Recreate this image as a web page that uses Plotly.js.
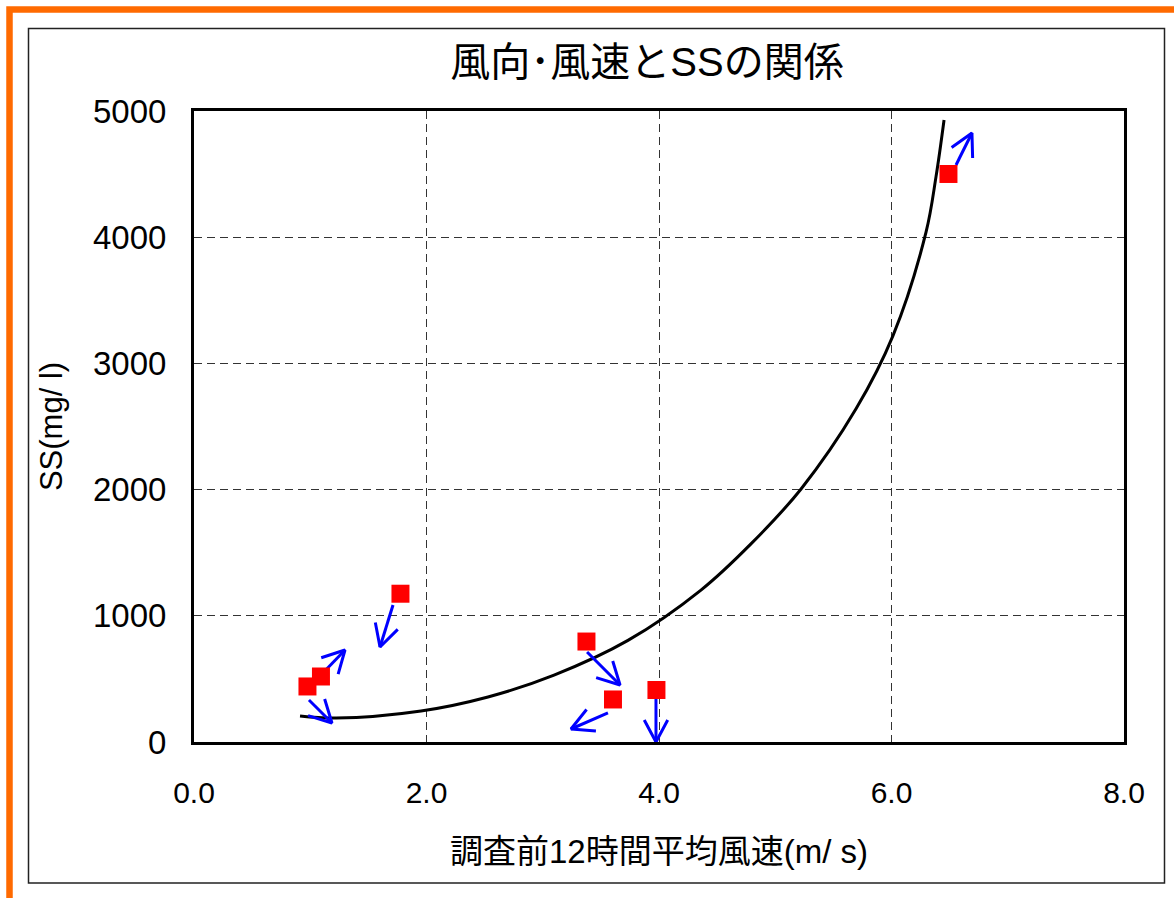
<!DOCTYPE html>
<html><head><meta charset="utf-8">
<script src="https://cdn.plot.ly/plotly-3.0.1.min.js"></script>
<style>html,body{margin:0;padding:0;background:#fff}#chart{width:1174px;height:898px}</style>
</head><body><div id="chart"></div>
<script>
// measured points: wind speed (m/s) vs SS (mg/l)
const windSpeed = [0.976, 1.092, 1.776, 3.376, 3.604, 3.978, 6.490];
const ssValue   = [440, 519, 1175, 796, 337, 412, 4501];

// trend curve
const trendX = [0.912, 1.222, 1.953, 2.529, 3.097, 3.733, 4.361, 4.791, 5.222, 5.695, 6.013, 6.297, 6.383, 6.452];
const trendY = [206, 190, 246, 357, 530, 805, 1204, 1570, 2005, 2640, 3220, 4040, 4480, 4929];

// wind direction arrows (start -> tip), in data units
const arrowX0 = [1.712, 1.067, 0.989, 3.381, 3.561, 3.974, 6.555];
const arrowY0 = [1086, 507, 333, 713, 230, 357, 4572];
const arrowX1 = [1.600, 1.299, 1.187, 3.665, 3.243, 3.974, 6.692];
const arrowY1 = [753, 729, 151, 452, 103, 0, 4826];

const xTickVals = [0, 2, 4, 6, 8];
const xTickText = ['0.0', '2.0', '4.0', '6.0', '8.0'];
const yTickVals = [0, 1000, 2000, 3000, 4000, 5000];

const W = 1174, H = 898;
const ML = 194, MT = 111, PW = 930, PH = 631;
const XR = [0, 8], YR = [0, 5000];
const sx = PW / (XR[1] - XR[0]), sy = PH / (YR[1] - YR[0]);

// build arrow polylines (shaft + open head)
const ax = [], ay = [];
const headLen = 25, headAng = 28 * Math.PI / 180;
for (let i = 0; i < arrowX0.length; i++) {
  const x0 = arrowX0[i], y0 = arrowY0[i], x1 = arrowX1[i], y1 = arrowY1[i];
  ax.push(x0, x1, null); ay.push(y0, y1, null);
  let vx = (x0 - x1) * sx, vy = (y0 - y1) * sy;
  const n = Math.hypot(vx, vy); vx /= n; vy /= n;
  const pts = [headAng, -headAng].map(a => {
    const rx = (vx * Math.cos(a) - vy * Math.sin(a)) * headLen;
    const ry = (vx * Math.sin(a) + vy * Math.cos(a)) * headLen;
    return [x1 + rx / sx, y1 + ry / sy];
  });
  ax.push(pts[0][0], x1, pts[1][0], null);
  ay.push(pts[0][1], y1, pts[1][1], null);
}

const px2x = p => (p - ML) / PW;
const px2y = p => (MT + PH - p) / PH;

const FONT = 'Liberation Sans, Arial, Noto Sans CJK JP, sans-serif';

const traces = [
  {x: trendX, y: trendY, mode: 'lines', line: {color: '#000', width: 3, shape: 'spline', smoothing: 1}, hoverinfo: 'skip', showlegend: false},
  {x: ax, y: ay, mode: 'lines', line: {color: '#0000FF', width: 3}, connectgaps: false, hoverinfo: 'skip', showlegend: false},
  {x: windSpeed, y: ssValue, mode: 'markers', marker: {symbol: 'square', size: 18, color: '#FF0000'}, showlegend: false, cliponaxis: false}
];

const layout = {
  width: W, height: H,
  margin: {l: ML, r: W - ML - PW, t: MT, b: H - MT - PH, pad: 0},
  paper_bgcolor: '#fff', plot_bgcolor: '#fff',
  font: {family: FONT, color: '#000', size: 30},
  title: {text: '風向･風速とSSの関係', font: {family: FONT, size: 40, color: '#000'},
          x: 647 / W, xref: 'container', xanchor: 'center', y: 1 - 62 / H, yref: 'container', yanchor: 'middle'},
  xaxis: {
    range: XR, tickvals: xTickVals, ticktext: xTickText,
    showline: true, linecolor: '#000', linewidth: 3, mirror: true,
    showgrid: true, gridcolor: '#333', gridwidth: 1, griddash: '8px,5px',
    zeroline: false, ticks: 'outside', ticklen: 22, tickcolor: 'rgba(0,0,0,0)',
    tickfont: {family: FONT, size: 30, color: '#000'},
    title: {text: '調査前12時間平均風速(m/ s)', font: {family: FONT, size: 33, color: '#000'}, standoff: 32},
    automargin: false, fixedrange: true
  },
  yaxis: {
    range: YR, tickvals: yTickVals,
    showline: true, linecolor: '#000', linewidth: 3, mirror: true,
    showgrid: true, gridcolor: '#333', gridwidth: 1, griddash: '8px,5px',
    zeroline: false, ticks: 'outside', ticklen: 18, tickcolor: 'rgba(0,0,0,0)',
    tickfont: {family: FONT, size: 33, color: '#000'},
    title: {text: 'SS(mg/ l)', font: {family: FONT, size: 31, color: '#000'}, standoff: 22},
    automargin: false, fixedrange: true
  },
  shapes: [
    {type: 'rect', xref: 'paper', yref: 'paper', layer: 'above',
     x0: px2x(9.5), x1: px2x(1230), y0: px2y(9.5), y1: px2y(960),
     line: {color: '#FF6A00', width: 6.5}},
    {type: 'rect', xref: 'paper', yref: 'paper', layer: 'above',
     x0: px2x(28.5), x1: px2x(1164.5), y0: px2y(28.5), y1: px2y(883),
     line: {color: '#222', width: 1.5}}
  ]
};

Plotly.newPlot('chart', traces, layout, {displayModeBar: false, staticPlot: true});
</script>
</body></html>
